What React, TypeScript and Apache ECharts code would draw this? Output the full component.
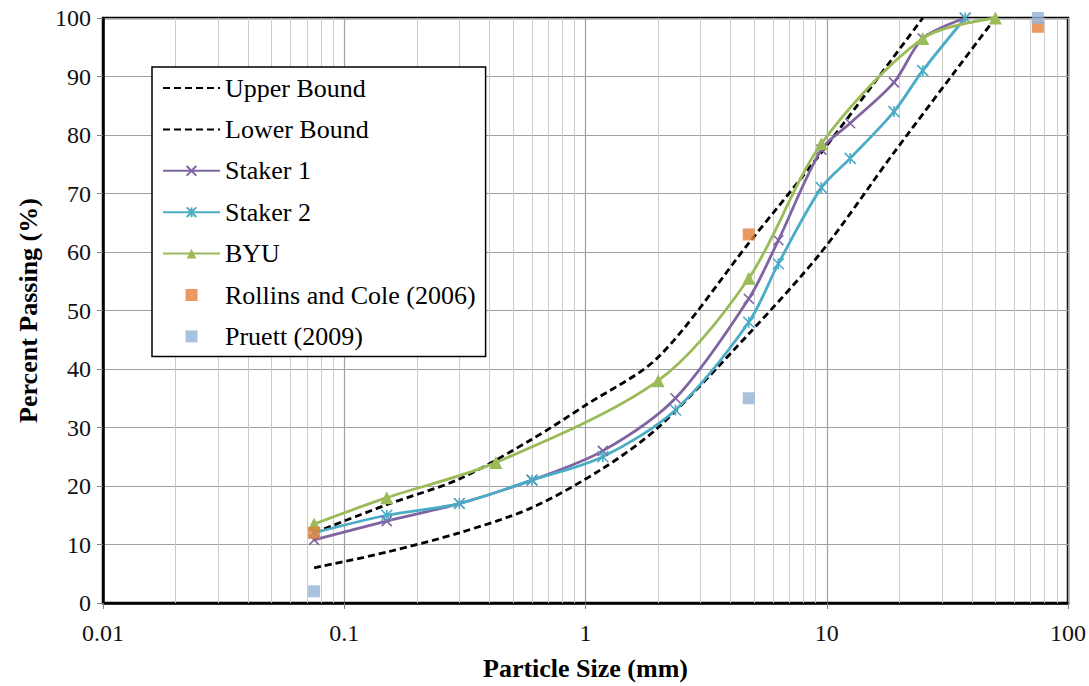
import React, { useEffect, useRef } from "react";
import * as echarts from "echarts";

// ---- data ----
const upperX = [0.075, 0.15, 0.3, 0.6, 1, 2, 4.75, 9.5, 25];
const upperY = [12, 16.8, 21.2, 28, 33.8, 42, 61.5, 77, 100];

const lowerX = [0.075, 0.15, 0.3, 0.6, 1.18, 2, 4.75, 9.5, 19, 50];
const lowerY = [6, 8.7, 12, 16.3, 23, 30, 46, 60, 77, 100];

const stakerX = [0.075, 0.15, 0.3, 0.6, 1.18, 2.36, 4.75, 6.3, 9.5, 12.5, 19, 25, 37.5];
const staker1Y = [10.8, 14, 17, 21, 26, 35, 52, 62, 77.5, 82, 89, 96.5, 100];
const staker2Y = [12, 15, 17, 21, 25, 33, 48, 58, 71, 76, 84, 91, 100];

const byuX = [0.075, 0.15, 0.425, 2, 4.75, 9.5, 25, 50];
const byuY = [13.5, 18, 24, 38, 55.5, 78.5, 96.5, 100];

const rollinsX = [0.075, 4.75, 75];
const rollinsY = [12, 63, 98.5];

const pruettX = [0.075, 4.75, 75];
const pruettY = [2, 35, 100];

const xTicks = [0.01, 0.1, 1, 10, 100];
const decades = [0.01, 0.1, 1, 10];
const minorMult = [2, 3, 4, 5, 6, 7, 8, 9];

const pair = (xs: number[], ys: number[]) => xs.map((x, i) => [x, ys[i]]);

const FONT = "Liberation Serif";
const CROSS = "path://M0,0L10,10M10,0L0,10";
const STAR = "path://M5,0L5,10M0,0L10,10M10,0L0,10";
const SQUARE = "path://M0,0L10,0L10,10L0,10Z";

export default function App() {
  const ref = useRef<HTMLDivElement>(null);
  useEffect(() => {
    if (!ref.current) return;
    const chart = echarts.init(ref.current, null, { renderer: "svg" });
    const minorLines: { xAxis: number }[] = [];
    decades.forEach((d) => minorMult.forEach((m) => minorLines.push({ xAxis: d * m })));

    const option: any = {
      animation: false,
      textStyle: { fontFamily: FONT },
      grid: {
        left: 103,
        right: 21,
        top: 18,
        bottom: 80,
        show: true,
        borderColor: "#000",
        borderWidth: 2.5,
      },
      xAxis: {
        type: "log",
        logBase: 10,
        min: 0.01,
        max: 100,
        axisLine: { show: true, onZero: false, lineStyle: { color: "#000", width: 2.5 } },
        axisTick: { show: true, length: 6, lineStyle: { color: "#808080" } },
        axisLabel: {
          fontSize: 24,
          fontFamily: FONT,
          color: "#111",
          margin: 18,
          formatter: (v: number) => {
            const t = xTicks.find((x) => Math.abs(Math.log10(x) - Math.log10(v)) < 1e-6);
            return t !== undefined ? String(t) : "";
          },
        },
        splitLine: { show: true, lineStyle: { color: "#A0A0A0", width: 1.2 } },
        name: "Particle Size (mm)",
        nameLocation: "middle",
        nameGap: 52,
        nameTextStyle: { fontSize: 26, fontWeight: "bold", color: "#000", fontFamily: FONT },
      },
      yAxis: {
        type: "value",
        min: 0,
        max: 100,
        interval: 10,
        axisLine: { show: true, lineStyle: { color: "#000", width: 2.5 } },
        axisTick: { show: true, length: 6, lineStyle: { color: "#808080" } },
        axisLabel: { fontSize: 24, fontFamily: FONT, color: "#111", margin: 12 },
        splitLine: { show: true, lineStyle: { color: "#A0A0A0", width: 1.2 } },
        name: "Percent Passing (%)",
        nameLocation: "middle",
        nameGap: 62,
        nameRotate: 90,
        nameTextStyle: { fontSize: 26, fontWeight: "bold", color: "#000", fontFamily: FONT },
      },
      legend: {
        orient: "vertical",
        left: 152,
        top: 67,
        backgroundColor: "#fff",
        borderColor: "#000",
        borderWidth: 1.5,
        padding: [7, 10, 6, 10],
        itemWidth: 57,
        itemHeight: 12,
        itemGap: 13.4,
        textStyle: { fontSize: 26, fontFamily: FONT, color: "#000", lineHeight: 28 },
        data: [
          { name: "Upper Bound", itemStyle: { opacity: 0 } },
          { name: "Lower Bound", itemStyle: { opacity: 0 } },
          "Staker 1",
          "Staker 2",
          "BYU",
          "Rollins and Cole (2006)",
          "Pruett (2009)",
        ],
      },
      series: [
        {
          name: "Upper Bound",
          type: "line",
          data: pair(upperX, upperY),
          smooth: 0.3,
          showSymbol: false,
          symbol: "none",
          lineStyle: { color: "#000", width: 2.8, type: [7, 4] },
          itemStyle: { color: "#000" },
          z: 2,
        },
        {
          name: "Lower Bound",
          type: "line",
          data: pair(lowerX, lowerY),
          smooth: 0.3,
          showSymbol: false,
          symbol: "none",
          lineStyle: { color: "#000", width: 2.8, type: [7, 4] },
          itemStyle: { color: "#000" },
          z: 2,
          markLine: {
            silent: true,
            symbol: ["none", "none"],
            label: { show: false },
            z: 1,
            lineStyle: { color: "#CCCCCC", width: 1, type: "solid" },
            data: minorLines,
          },
        },
        {
          name: "Staker 1",
          type: "line",
          data: pair(stakerX, staker1Y),
          smooth: 0.3,
          symbol: CROSS,
          symbolSize: 10,
          symbolKeepAspect: true,
          lineStyle: { color: "#8064A2", width: 2.8 },
          itemStyle: { color: "#8064A2", borderColor: "#8064A2", borderWidth: 1.6 },
          z: 3,
        },
        {
          name: "Staker 2",
          type: "line",
          data: pair(stakerX, staker2Y),
          smooth: 0.3,
          symbol: STAR,
          symbolSize: 11,
          symbolKeepAspect: true,
          lineStyle: { color: "#4BACC6", width: 2.8 },
          itemStyle: { color: "#4BACC6", borderColor: "#4BACC6", borderWidth: 1.6 },
          z: 3,
        },
        {
          name: "BYU",
          type: "line",
          data: pair(byuX, byuY),
          smooth: 0.3,
          symbol: "triangle",
          symbolSize: 13,
          lineStyle: { color: "#9BBB59", width: 2.8 },
          itemStyle: { color: "#9BBB59" },
          z: 4,
        },
        {
          name: "Rollins and Cole (2006)",
          type: "scatter",
          data: pair(rollinsX, rollinsY),
          symbol: SQUARE,
          symbolKeepAspect: true,
          symbolSize: 12,
          itemStyle: { color: "#E5803A" },
          z: 5,
        },
        {
          name: "Pruett (2009)",
          type: "scatter",
          data: pair(pruettX, pruettY),
          symbol: SQUARE,
          symbolKeepAspect: true,
          symbolSize: 12,
          itemStyle: { color: "#95B3D7" },
          z: 5,
        },
      ],
    };
    chart.setOption(option);
    return () => chart.dispose();
  }, []);

  return <div ref={ref} style={{ width: 1089, height: 686, position: "absolute", left: 0, top: 0 }} />;
}
